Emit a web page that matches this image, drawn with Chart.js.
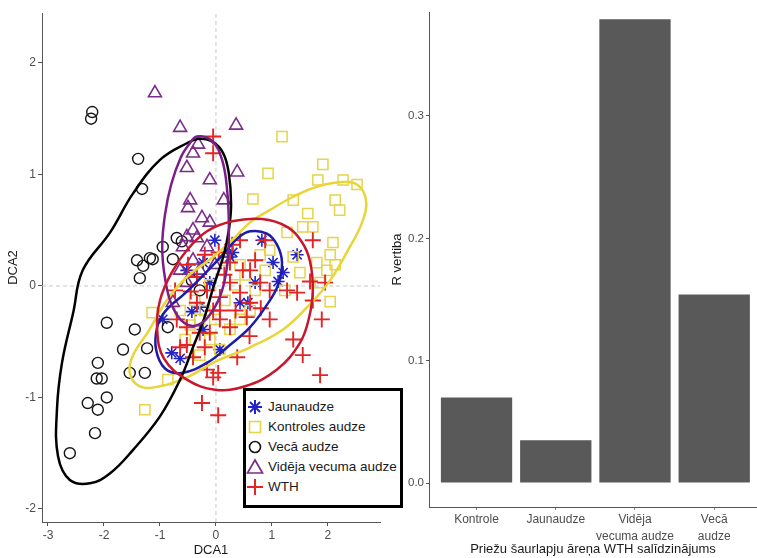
<!DOCTYPE html>
<html lang="lv">
<head>
<meta charset="utf-8">
<title>DCA un R vērtības</title>
<script src="https://cdn.jsdelivr.net/npm/chart.js@4.4.1/dist/chart.umd.min.js"></script>
<style>
  html, body { margin: 0; padding: 0; background: #fff; }
  body { position: relative; width: 757px; height: 558px; overflow: hidden; font-family: "Liberation Sans", Arial, sans-serif; }
  #izkliede { position: absolute; left: 0; top: 0; }
  #stabini { position: absolute; left: 390px; top: 0; }
  #legenda { position: absolute; left: 243px; top: 388px; width: 154px; height: 114px; border: 3px solid #000; background: #fff; z-index: 2; }
  .rinda { position: absolute; left: 0; height: 20px; line-height: 20px; font-size: 13.5px; color: #1a1a1a; white-space: nowrap; }
  .rinda svg { position: absolute; left: -1px; top: 0; }
  .rinda span { position: absolute; left: 22px; }
</style>
</head>
<body>
<canvas id="izkliede" width="390" height="558"></canvas>
<canvas id="stabini" width="367" height="558"></canvas>
<div id="legenda"></div>

<script>
// =======================================================
// DATI (nolasīti no attēla)
// =======================================================
const grupas = ["Jaunaudze", "Kontroles audze", "Vecā audze", "Vidēja vecuma audze", "WTH"];

// DCA punkti [DCA1, DCA2]
const jaunaudze = [[1.45,0.28],[1.02,0.21],[1.20,0.12],[1.11,0.04],[-0.95,-0.30],[-0.79,-0.60],[-0.64,-0.65],
  [-0.43,-0.23],[0.07,-0.57],[0.43,-0.15],[0.57,-0.15],[0.30,0.30],[-0.23,-0.39],[0.25,0.26],[-0.23,0.21],
  [-0.52,0.14],[-0.11,0.03],[-0.29,-0.19],[0.82,0.41],[0.70,0.03],[-0.02,0.41]];

const kontroles = [[1.18,1.34],[0.93,1.01],[1.91,1.09],[1.82,0.95],[2.27,0.95],[2.52,0.91],[2.13,0.77],[2.21,0.68],
  [0.66,0.78],[1.38,0.77],[1.64,0.65],[1.55,0.53],[1.73,0.53],[2.09,0.39],[1.27,0.48],[2.04,-0.14],[-1.27,-1.11],
  [-1.14,-0.24],[-0.86,-0.84],[1.80,0.21],[1.98,0.14],[1.50,0.12],[1.38,0.26],[1.86,0.03],[2.13,0.19],[2.04,0.28],
  [-0.38,-0.13],[-0.20,-0.22],[-0.02,-0.30],[0.16,-0.13],[0.34,0.01],[0.52,0.10],[0.70,-0.04],[0.88,0.14],
  [-0.11,-0.48],[0.07,-0.57],[-0.29,-0.62],[-0.55,-0.48],[-0.46,-0.35],[0.25,-0.39],[0.61,-0.22],[0.43,0.19],
  [-0.11,0.01],[-0.64,-0.22],[0.96,0.32],[0.43,-0.30],[-0.29,-0.30],[0.79,0.28],[1.23,-0.04],[0.16,0.23]];

const veca = [[-2.21,1.56],[-2.23,1.50],[-1.39,1.14],[-1.32,0.87],[-0.70,0.43],[-0.61,0.40],[-0.95,0.35],[-1.18,0.25],
  [-1.41,0.23],[-1.30,0.18],[-1.13,0.24],[-0.77,0.24],[-1.36,0.07],[-0.29,-0.04],[-0.43,0.05],[-1.95,-0.33],
  [-1.45,-0.39],[-0.86,-0.37],[-1.66,-0.57],[-1.23,-0.56],[-2.11,-0.69],[-1.54,-0.78],[-1.27,-0.78],[-2.13,-0.83],
  [-2.04,-0.83],[-1.95,-1.00],[-2.29,-1.05],[-2.11,-1.11],[-2.16,-1.32],[-2.61,-1.50]];

const videja = [[-1.09,1.73],[-0.64,1.42],[0.36,1.44],[-0.32,1.27],[-0.41,1.19],[-0.52,1.06],[-0.11,0.95],[0.38,1.02],
  [-0.46,0.77],[-0.50,0.70],[0.14,0.77],[-0.25,0.61],[-0.11,0.57],[-0.41,0.50],[-0.52,0.44],[-0.34,0.43],
  [-0.59,0.35],[-0.16,0.35],[-0.41,0.23],[-0.64,0.14],[-0.52,0.03],[-0.77,-0.15],[-0.29,0.14],[-0.02,0.19]];

const wth = [[-0.05,1.34],[-0.05,1.19],[0.43,0.41],[1.73,0.41],[1.95,0.03],[1.73,-0.13],[1.89,-0.30],[1.38,-0.48],
  [1.55,-0.62],[1.86,-0.80],[1.45,-0.06],[1.27,-0.04],[0.96,-0.30],[1.68,0.04],[-0.25,-1.05],[0.04,-1.16],
  [0.04,-0.78],[-0.16,-0.75],[0.38,-0.64],[-0.34,-0.15],[-0.52,-0.53],[-0.29,-0.42],[0.07,-0.22],[0.25,-0.37],
  [0.43,-0.06],[0.48,0.14],[0.79,0.03],[-0.05,-0.22],[0.07,-0.10],[0.25,0.03],[0.25,0.21],[-0.52,-0.37],
  [-0.64,-0.55],[-0.41,-0.64],[-0.05,-0.82],[-0.11,-0.42],[0.55,-0.28],[0.61,-0.15],[-0.34,0.08],[-0.16,-0.04],
  [0.07,-0.30],[0.96,-0.04],[0.70,0.23],[0.88,0.41],[-0.20,0.28],[-0.50,0.19],[-0.73,-0.04],[0.29,0.37],
  [0.61,0.14],[-0.45,-0.05],[0.15,0.10],[-0.20,-0.55],[0.35,-0.22],[0.60,-0.45],[-0.70,-0.30],[0.05,0.30],[0.80,-0.20]];

// elipšu kontūras (punkti pa apli)
const elipseJaunaudze = [[0.61,0.49],[0.91,0.47],[1.09,0.37],[1.18,0.21],[1.11,0.01],[0.91,-0.17],[0.61,-0.37],
  [0.25,-0.53],[-0.16,-0.69],[-0.61,-0.78],[-0.91,-0.74],[-1.07,-0.57],[-1.05,-0.37],[-0.91,-0.23],[-0.54,-0.06],
  [-0.18,0.12],[0.14,0.29],[0.39,0.43]];
const elipseKontroles = [[2.68,0.77],[2.61,0.57],[2.39,0.35],[2.04,0.05],[1.63,-0.19],[1.20,-0.39],[0.61,-0.55],
  [-0.02,-0.68],[-0.52,-0.82],[-1.00,-0.90],[-1.36,-0.90],[-1.54,-0.78],[-1.48,-0.62],[-1.21,-0.41],[-0.88,-0.13],
  [-0.52,0.08],[-0.05,0.26],[0.29,0.41],[0.61,0.57],[0.96,0.68],[1.38,0.80],[1.80,0.89],[2.21,0.93],[2.52,0.91]];
const elipseVeca = [[-0.29,1.32],[-0.05,1.29],[0.13,1.19],[0.23,1.01],[0.27,0.73],[0.23,0.50],[0.14,0.28],[-0.04,0.00],
  [-0.21,-0.29],[-0.41,-0.55],[-0.64,-0.84],[-1.00,-1.17],[-1.48,-1.47],[-1.89,-1.68],[-2.25,-1.77],[-2.61,-1.74],
  [-2.82,-1.53],[-2.84,-1.11],[-2.75,-0.69],[-2.55,-0.24],[-2.38,0.14],[-1.89,0.48],[-1.48,0.83],[-1.00,1.13],[-0.52,1.28]];
const elipseVideja = [[-0.34,1.34],[-0.07,1.30],[0.11,1.13],[0.20,0.86],[0.23,0.55],[0.21,0.23],[0.11,-0.04],
  [-0.07,-0.23],[-0.32,-0.35],[-0.57,-0.33],[-0.79,-0.17],[-0.91,0.07],[-0.96,0.35],[-0.91,0.64],[-0.80,0.91],
  [-0.63,1.15],[-0.48,1.27]];
const elipseWth = [[0.29,0.58],[0.82,0.60],[1.27,0.53],[1.54,0.39],[1.68,0.22],[1.73,-0.04],[1.66,-0.29],[1.50,-0.51],
  [1.09,-0.75],[0.52,-0.90],[-0.02,-0.93],[-0.52,-0.84],[-0.93,-0.65],[-1.05,-0.39],[-1.00,-0.13],[-0.79,0.12],
  [-0.52,0.32],[-0.16,0.49]];

const dcaXTicks = [-3, -2, -1, 0, 1, 2];
const dcaYTicks = [-2, -1, 0, 1, 2];
const dcaX = [-3.107, 2.93];   // ass robežas
const dcaY = [-2.117, 2.448];

// stabiņu diagramma
const kategorijas = [["Kontrole"], ["Jaunaudze"], ["Vidēja", "vecuma audze"], ["Vecā", "audze"]];
const rVertibas = [0.070, 0.035, 0.379, 0.154];
const rTicks = [0, 0.1, 0.2, 0.3];
const rY = [-0.0196, 0.385];

// =======================================================
// STILI
// =======================================================
const FONTS = '"Liberation Sans", Arial, sans-serif';
const punktuKrasas = ["#2323c8", "#e6d44a", "#151515", "#7b2d8b", "#e42525"];
const elipsuKrasas = ["#1c1ca8", "#e9d43a", "#000000", "#7a1f88", "#c8172d"];
const punktuStili = ["star", "rect", "circle", "triangle", "cross"];
const punktuIzmeri = [6.5, 7.2, 5.5, 7.5, 8];
const punktuLinijas = [1.6, 1.5, 1.4, 1.6, 1.9];

function punkti(arr) {
  return arr.map(p => ({ x: p[0], y: p[1] }));
}

// aizver elipses kā cilpu (tāpat kā radara diagrammā)
const aizvertElipses = {
  id: "aizvertElipses",
  afterDatasetsUpdate(chart) {
    chart.data.datasets.forEach((ds, i) => {
      if (!ds.elipse) return;
      const line = chart.getDatasetMeta(i).dataset;
      if (!line) return;
      line._loop = true;
      line._fullLoop = true;
      line._pointsUpdated = false;
      line._segments = undefined;
      line._path = undefined;
    });
  }
};

// =======================================================
// KREISAIS: DCA IZKLIEDE
// =======================================================
const punktuKopas = [jaunaudze, kontroles, veca, videja, wth];
const elipses = [elipseJaunaudze, elipseKontroles, elipseVeca, elipseVideja, elipseWth];
const elipsuSecība = [4, 3, 2, 1, 0];

const datuKopas = [];

elipses.forEach((el, i) => {
  datuKopas.push({
    type: "line",
    label: grupas[i] + " elipse",
    data: punkti(el),
    borderColor: elipsuKrasas[i],
    borderWidth: 2.5,
    pointRadius: 0,
    tension: 0.4,
    fill: false,
    elipse: true,
    order: elipsuSecība[i]
  });
});

punktuKopas.forEach((kopa, i) => {
  datuKopas.push({
    label: grupas[i],
    data: punkti(kopa),
    pointStyle: punktuStili[i],
    pointRadius: punktuIzmeri[i],
    pointBorderColor: punktuKrasas[i],
    pointBackgroundColor: "rgba(0,0,0,0)",
    pointBorderWidth: punktuLinijas[i],
    order: 5 + elipsuSecība[i]
  });
});

// nulles līnijas
datuKopas.push({
  type: "line", data: [{ x: 0, y: dcaY[0] }, { x: 0, y: dcaY[1] }],
  borderColor: "#c9c9c9", borderWidth: 1, borderDash: [4, 3], pointRadius: 0, order: 20
});
datuKopas.push({
  type: "line", data: [{ x: dcaX[0], y: 0 }, { x: dcaX[1], y: 0 }],
  borderColor: "#c9c9c9", borderWidth: 1, borderDash: [4, 3], pointRadius: 0, order: 21
});

function asisStils(extra) {
  return Object.assign({
    type: "linear",
    grid: { display: true, drawOnChartArea: false, drawTicks: true, tickLength: 4, tickColor: "#555", tickWidth: 1 },
    border: { display: true, color: "#555", width: 1 },
    ticks: { color: "#4d4d4d", font: { size: 12, family: FONTS }, padding: 2, maxRotation: 0, autoSkip: false }
  }, extra);
}

new Chart(document.getElementById("izkliede"), {
  type: "scatter",
  data: { datasets: datuKopas },
  options: {
    responsive: false,
    animation: false,
    events: [],
    layout: { padding: { top: 13, right: 10, left: 0, bottom: 0 } },
    plugins: { legend: { display: false }, tooltip: { enabled: false } },
    scales: {
      x: asisStils({
        min: dcaX[0], max: dcaX[1],
        afterFit: s => { s.height = 36; },
        afterBuildTicks: s => { s.ticks = dcaXTicks.map(v => ({ value: v })); },
        title: { display: true, text: "DCA1", color: "#1a1a1a", font: { size: 13, family: FONTS }, padding: { top: 0, bottom: 0 } }
      }),
      y: asisStils({
        min: dcaY[0], max: dcaY[1],
        afterFit: s => { s.width = 42; },
        afterBuildTicks: s => { s.ticks = dcaYTicks.map(v => ({ value: v })); },
        title: { display: true, text: "DCA2", color: "#1a1a1a", font: { size: 13, family: FONTS }, padding: { top: 6, bottom: 0 } }
      })
    }
  },
  plugins: [aizvertElipses]
});

// =======================================================
// LEĢENDA
// =======================================================
function simbols(stils, krasa) {
  const s = `stroke="${krasa}" fill="none"`;
  if (stils === "star") {
    return `<g ${s} stroke-width="2"><line x1="3" y1="10" x2="17" y2="10"/><line x1="10" y1="3" x2="10" y2="17"/>` +
      `<line x1="5" y1="5" x2="15" y2="15"/><line x1="15" y1="5" x2="5" y2="15"/></g>`;
  }
  if (stils === "rect") return `<rect x="4.5" y="4.5" width="11" height="11" ${s} stroke-width="1.6"/>`;
  if (stils === "circle") return `<circle cx="10" cy="10" r="5.5" ${s} stroke-width="1.6"/>`;
  if (stils === "triangle") return `<polygon points="10,3 17.5,16 2.5,16" ${s} stroke-width="1.7"/>`;
  return `<g ${s} stroke-width="2"><line x1="2" y1="10" x2="18" y2="10"/><line x1="10" y1="2" x2="10" y2="18"/></g>`;
}

const legenda = document.getElementById("legenda");
grupas.forEach((nosaukums, i) => {
  const rinda = document.createElement("div");
  rinda.className = "rinda";
  rinda.style.top = (6 + i * 20) + "px";
  rinda.innerHTML = `<svg width="20" height="20" viewBox="0 0 20 20">${simbols(punktuStili[i], punktuKrasas[i])}</svg>` +
    `<span>${nosaukums}</span>`;
  legenda.appendChild(rinda);
});

// =======================================================
// LABAIS: R VĒRTĪBU STABIŅI
// =======================================================
new Chart(document.getElementById("stabini"), {
  type: "bar",
  data: {
    datasets: [{
      data: rVertibas.map((v, i) => ({ x: i, y: v })),
      backgroundColor: "#595959",
      borderWidth: 0,
      categoryPercentage: 1,
      barPercentage: 0.9
    }]
  },
  options: {
    responsive: false,
    animation: false,
    events: [],
    layout: { padding: { top: 12, right: 0, left: 0, bottom: 0 } },
    plugins: { legend: { display: false }, tooltip: { enabled: false } },
    scales: {
      x: {
        type: "linear",
        min: -0.6, max: 3.54,
        offset: false,
        afterFit: s => { s.height = 51; },
        afterBuildTicks: s => { s.ticks = kategorijas.map((k, i) => ({ value: i })); },
        grid: { display: true, offset: false, drawOnChartArea: false, drawTicks: true, tickLength: 3, tickColor: "#888", tickWidth: 1 },
        border: { display: true, color: "#555", width: 1 },
        ticks: {
          color: "#4d4d4d", font: { size: 12, family: FONTS, lineHeight: 1.35 }, padding: 2, maxRotation: 0, autoSkip: false,
          callback: (v, i) => kategorijas[i]
        },
        title: { display: true, text: "Priežu šaurlapju āreņa WTH salīdzinājums", color: "#1a1a1a", font: { size: 13, family: FONTS }, padding: { top: 0, bottom: 1 } }
      },
      y: {
        type: "linear",
        min: rY[0], max: rY[1],
        afterFit: s => { s.width = 39; },
        afterBuildTicks: s => { s.ticks = rTicks.map(v => ({ value: v })); },
        grid: { display: true, drawOnChartArea: false, drawTicks: true, tickLength: 3, tickColor: "#555", tickWidth: 1 },
        border: { display: true, color: "#555", width: 1 },
        ticks: { color: "#4d4d4d", font: { size: 11.5, family: FONTS }, padding: 2, callback: v => v.toFixed(1) },
        title: { display: true, text: "R vertiba", color: "#1a1a1a", font: { size: 13, family: FONTS }, padding: { top: 0, bottom: 0 } }
      }
    }
  }
});
</script>
</body>
</html>
